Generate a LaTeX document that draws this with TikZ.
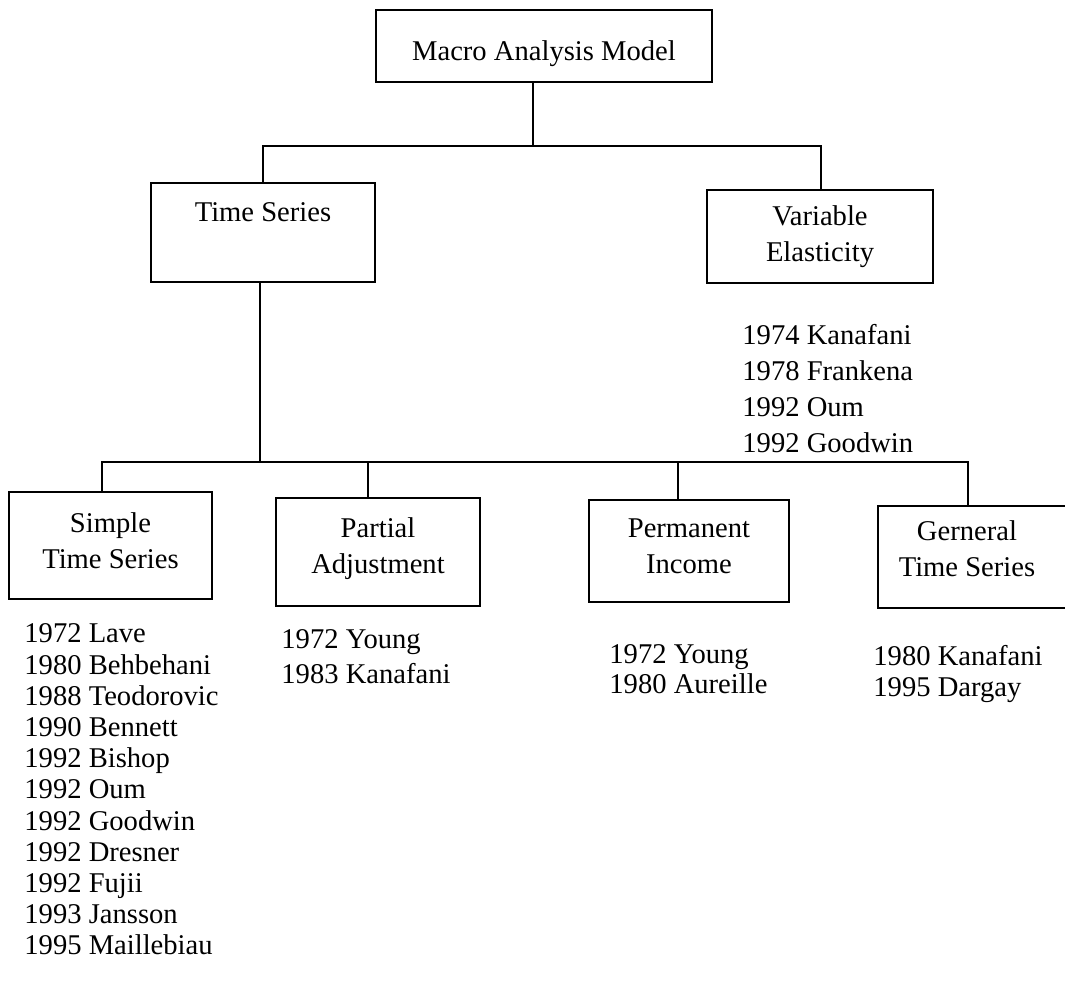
\documentclass[tikz,border=0pt]{standalone}
\usepackage{fontspec}
\setmainfont{Liberation Serif}
\begin{document}
\begin{tikzpicture}[x=0.5pt,y=-0.5pt,
  every node/.style={font=\fontsize{14.3pt}{18pt}\selectfont},
  box/.style={draw, line width=0.9pt, rectangle, align=center, inner sep=0pt},
  conn/.style={line width=0.9pt},
  lst/.style={anchor=north west, align=left, inner sep=0pt}]
\useasboundingbox (0,0) rectangle (1065,998);

% boxes
\node[box, minimum width=168pt, minimum height=36pt, text height=17.8pt] (m) at (544,46) {Macro Analysis Model};
\node[box, minimum width=112pt, text height=19.25pt, text depth=30.25pt, anchor=north] (ts) at (263,182) {Time Series};
\node[box, minimum width=113pt, minimum height=46.5pt] (ve) at (820,236.5) {Variable\\Elasticity};
\node[box, minimum width=101.5pt, minimum height=53.5pt, text depth=5pt] (sts) at (110.5,545.5) {Simple\\Time Series};
\node[box, minimum width=102pt, minimum height=54pt, text depth=6.5pt] (pa) at (378,552) {Partial\\Adjustment};
\node[box, minimum width=100pt, minimum height=51pt, text depth=5pt] (pi) at (689,551) {Permanent\\Income};
\node[box, minimum width=100pt, minimum height=51pt, anchor=west] (gts) at (877,557) {};
\node[inner sep=0pt, align=center] (gtsl) at (967,549) {Gerneral\\Time Series};

% connectors
\coordinate (j1) at (533,146);
\coordinate (b1l) at (263,146);
\coordinate (b1r) at (821,146);
\draw[conn] (m.south -| j1) -- (j1);
\draw[conn] (ts.north -| b1l) -- (b1l) -- (b1r) -- (ve.north -| b1r);

\coordinate (j2) at (260,462);
\coordinate (b2a) at (102,462);
\coordinate (b2b) at (368,462);
\coordinate (b2c) at (678,462);
\coordinate (b2d) at (968,462);
\draw[conn] (ts.south -| j2) -- (j2);
\draw[conn] (sts.north -| b2a) -- (b2a) -- (b2d) -- (gts.north -| b2d);
\draw[conn] (b2b) -- (pa.north -| b2b);
\draw[conn] (b2c) -- (pi.north -| b2c);

% lists
\node[lst, font=\fontsize{14.3pt}{18pt}\selectfont] (velist) at (742,323.5)
  {1974 Kanafani\\1978 Frankena\\1992 Oum\\1992 Goodwin};
\node[lst, font=\fontsize{14.3pt}{15.6pt}\selectfont] (stslist) at (24,623.5)
  {1972 Lave\\1980 Behbehani\\1988 Teodorovic\\1990 Bennett\\1992 Bishop\\1992 Oum\\1992 Goodwin\\1992 Dresner\\1992 Fujii\\1993 Jansson\\1995 Maillebiau};
\node[lst, font=\fontsize{14.3pt}{17.5pt}\selectfont] (palist) at (281,629.5)
  {1972 Young\\1983 Kanafani};
\node[lst, font=\fontsize{14.3pt}{15pt}\selectfont] (pilist) at (609,644.5)
  {1972 Young\\1980 Aureille};
\node[lst, font=\fontsize{14.3pt}{15.5pt}\selectfont] (gtslist) at (873,644.5)
  {1980 Kanafani\\1995 Dargay};
\end{tikzpicture}
\end{document}
